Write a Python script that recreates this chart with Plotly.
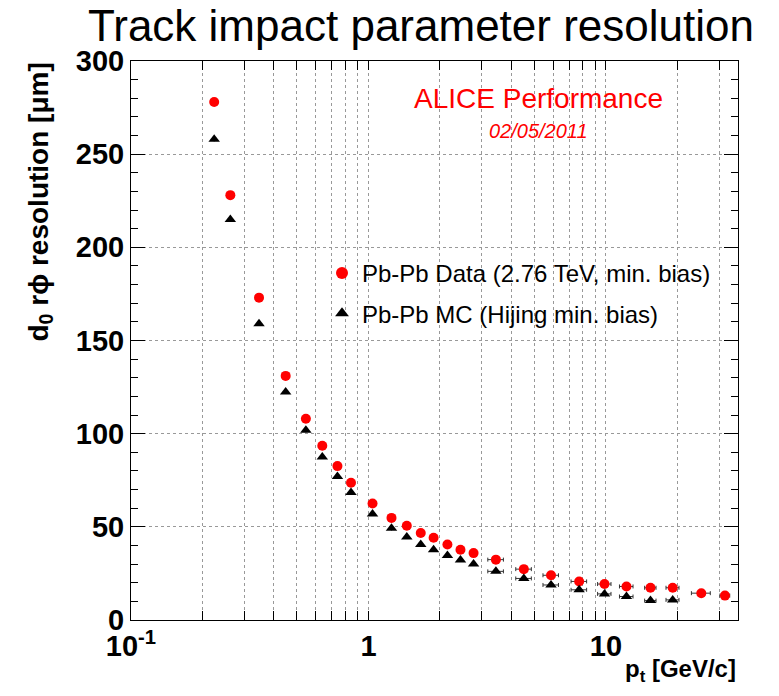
import plotly.graph_objects as go

# ---- data ----
pt = [0.224, 0.262, 0.346, 0.448, 0.545, 0.639, 0.74, 0.844, 1.04, 1.25, 1.45, 1.66, 1.88,
      2.15, 2.44, 2.77, 3.44, 4.51, 5.87, 7.71, 9.86, 12.2, 15.4, 19.1, 25.2, 31.7]
data_res = [278, 228, 173, 131, 108, 93.5, 82.6, 73.7, 62.5, 54.8, 50.6, 46.7, 44.1,
            40.5, 37.7, 35.9, 32.4, 27.3, 24.0, 20.7, 19.3, 18.0, 17.3, 17.3, 14.4, 13.1]
mc_pt = pt[:24]
mc_res = [258, 215, 159, 122.4, 101.8, 87.5, 77, 68.4, 56.9, 49.2, 44.6, 40.5, 37.7,
          34.6, 32.2, 30.1, 26.1, 22.3, 18.8, 16.2, 14.0, 12.6, 10.4, 10.8]
pt_err = [0, 0, 0, 0, 0, 0, 0, 0, 0, 0, 0, 0, 0,
          0, 0, 0, 0.26, 0.34, 0.44, 0.58, 0.64, 0.8, 0.85, 1.2, 2.3, 1.5]
mc_pt_err = pt_err[:24]

x_tickvals = [0.1, 0.2, 0.3, 0.4, 0.5, 0.6, 0.7, 0.8, 0.9, 1, 2, 3, 4, 5, 6, 7, 8, 9, 10, 20, 30]
x_ticktext = ["10<sup>-1</sup>", "", "", "", "", "", "", "", "", "1",
              "", "", "", "", "", "", "", "", "10", "", ""]

title_text = "Track impact parameter resolution"
ytitle = "d<sub>0</sub> rϕ resolution [μm]"
xtitle = "p<sub>t</sub> [GeV/c]"
data_label = "Pb-Pb Data (2.76 TeV, min. bias)"
mc_label = "Pb-Pb MC (Hijing min. bias)"

FONT = "Liberation Sans"

fig = go.Figure()
fig.add_trace(go.Scatter(
    x=pt, y=data_res, mode="markers", name=data_label, legendgroup="a",
    marker=dict(symbol="circle", size=10, color="#ff0000"),
    error_x=dict(type="data", array=pt_err, color="#333333", thickness=1, width=2),
))
fig.add_trace(go.Scatter(
    x=mc_pt, y=mc_res, mode="markers", name=mc_label, legendgroup="b",
    marker=dict(symbol="triangle-up", size=10, color="#000000"),
    error_x=dict(type="data", array=mc_pt_err, color="#333333", thickness=1, width=2),
))

L, R, T, B = 131, 41, 61, 76
W, H = 779, 696
pw, ph = W - L - R, H - T - B

fig.update_layout(
    width=W, height=H,
    margin=dict(l=L, r=R, t=T, b=B),
    paper_bgcolor="white", plot_bgcolor="white",
    font=dict(family=FONT, color="black"),
    showlegend=True,
    legend=dict(x=(322 - L) / pw, y=(620 - 251) / ph, xanchor="left", yanchor="top",
                bgcolor="rgba(0,0,0,0)", font=dict(size=24, family=FONT),
                tracegroupgap=6, itemsizing="constant"),
    xaxis=dict(type="log", range=[-1, 1.556], tickmode="array",
               tickvals=x_tickvals, ticktext=x_ticktext,
               ticks="inside", ticklen=9, tickcolor="black",
               showline=True, linecolor="black", linewidth=1, mirror="ticks",
               showgrid=True, gridcolor="#999999", griddash="dot", gridwidth=1,
               tickfont=dict(size=29, family=FONT, weight="bold"),
               zeroline=False),
    yaxis=dict(range=[0, 300], tickmode="linear", tick0=0, dtick=50,
               ticks="inside", ticklen=14, tickcolor="black",
               minor=dict(dtick=10, ticks="inside", ticklen=7, tickcolor="black", showgrid=False),
               showline=True, linecolor="black", linewidth=1, mirror="ticks",
               showgrid=True, gridcolor="#999999", griddash="dot", gridwidth=1,
               tickfont=dict(size=29, family=FONT, weight="bold"),
               zeroline=False),
)

fig.add_annotation(text=title_text, xref="paper", yref="paper",
                   x=(421 - L) / pw, y=(620 - 26) / ph, xanchor="center", yanchor="middle",
                   showarrow=False, font=dict(size=44, family=FONT, color="black"))
fig.add_annotation(text=ytitle, xref="paper", yref="paper",
                   x=(40 - L) / pw, y=1.0, xanchor="center", yanchor="top", textangle=-90,
                   showarrow=False, font=dict(size=28, family=FONT, weight="bold"))
fig.add_annotation(text=xtitle, xref="paper", yref="paper",
                   x=1.0, y=(620 - 670) / ph, xanchor="right", yanchor="middle",
                   showarrow=False, font=dict(size=24, family=FONT, weight="bold"))
fig.add_annotation(text="ALICE Performance", xref="paper", yref="paper",
                   x=(538 - L) / pw, y=(620 - 98) / ph, xanchor="center", yanchor="middle",
                   showarrow=False, font=dict(size=28, family=FONT, color="#ff0000"))
fig.add_annotation(text="<i>02/05/2011</i>", xref="paper", yref="paper",
                   x=(538 - L) / pw, y=(620 - 131) / ph, xanchor="center", yanchor="middle",
                   showarrow=False, font=dict(size=20, family=FONT, color="#ff0000"))

fig.write_html("out.html")
